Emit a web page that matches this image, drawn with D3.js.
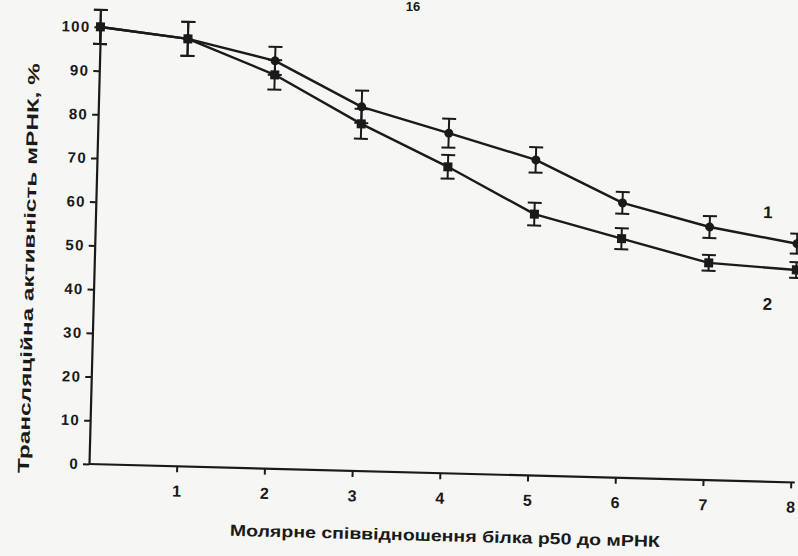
<!DOCTYPE html>
<html>
<head>
<meta charset="utf-8">
<script src="https://cdn.jsdelivr.net/npm/d3@7"></script>
<style>
  html, body { margin: 0; padding: 0; background: #f6f6f4; }
  svg { display: block; }
  text { font-family: "Liberation Sans", Arial, sans-serif; fill: #1a1a1a; }
</style>
</head>
<body>
<svg id="chart" width="798" height="556"></svg>
<script>
// ---- data ----
const ratios = [0, 1, 2, 3, 4, 5, 6, 7, 8];
const series1 = [100, 97.8, 93.3, 83.3, 77.8, 72.2, 62.9, 57.9, 54.6];
const series1Err = [3.9, 3.9, 3.2, 3.7, 3.3, 2.9, 2.5, 2.5, 2.3];
const series2 = [100, 97.8, 90.1, 79.4, 70.1, 59.8, 54.7, 49.7, 48.6];
const series2Err = [3.9, 3.9, 3.4, 3.4, 2.7, 2.6, 2.4, 1.8, 1.8];
const yTicks = [0, 10, 20, 30, 40, 50, 60, 70, 80, 90, 100];
const xTicks = [1, 2, 3, 4, 5, 6, 7, 8];
const seriesLabels = ["1", "2"];
const xTitle = "Молярне співвідношення білка р50 до мРНК";
const yTitle = "Трансляційна активність мРНК, %";
const pageNumber = "16";

const svg = d3.select("#chart");
const ink = "#1a1a1a";

// page number at top
svg.append("text").attr("x", 413).attr("y", 11).attr("text-anchor", "middle")
  .style("font-size", "13px").style("font-weight", "bold").text(pageNumber);

// scanned page is slightly rotated
const g = svg.append("g").attr("transform", "translate(89,464) rotate(1.5)");

const x = d3.scaleLinear().domain([0, 8]).range([0, 702]);
const y = d3.scaleLinear().domain([0, 100]).range([0, -437.2]);

// axes
const yAxis = d3.axisLeft(y).tickValues(yTicks).tickSize(6).tickSizeOuter(0).tickPadding(4);
const xAxis = d3.axisBottom(x).tickValues(xTicks).tickSize(6).tickSizeOuter(0).tickPadding(13);

const ya = g.append("g").call(yAxis);
const xa = g.append("g").call(xAxis);
[ya, xa].forEach(a => {
  a.select(".domain").attr("stroke", ink).attr("stroke-width", 2.2);
  a.selectAll(".tick line").attr("stroke", ink).attr("stroke-width", 2);
  a.selectAll(".tick text").style("font-size", "15px").style("font-weight", "bold")
    .style("letter-spacing", "1.3px").attr("fill", ink)
    .style("font-family", "'Liberation Sans', Arial, sans-serif");
});
xa.selectAll(".tick text").style("font-size", "16px").style("letter-spacing", "0px");
// extend x axis slightly
xa.select(".domain").attr("d", `M0,0H${x(8) + 4}`);

// lines
const line = d3.line().x((d, i) => x(ratios[i])).y(d => y(d));
[series1, series2].forEach(s => {
  g.append("path").datum(s).attr("d", line).attr("fill", "none")
    .attr("stroke", ink).attr("stroke-width", 2.4).attr("stroke-linejoin", "round");
});

// error bars
function errBars(vals, errs) {
  const eg = g.append("g").attr("stroke", ink).attr("stroke-width", 2);
  vals.forEach((v, i) => {
    const cx = x(ratios[i]);
    const y1 = y(v + errs[i]), y0 = y(v - errs[i]);
    eg.append("line").attr("x1", cx).attr("x2", cx).attr("y1", y1).attr("y2", y0);
    eg.append("line").attr("x1", cx - 7).attr("x2", cx + 7).attr("y1", y1).attr("y2", y1);
    eg.append("line").attr("x1", cx - 7).attr("x2", cx + 7).attr("y1", y0).attr("y2", y0);
  });
}
errBars(series1, series1Err);
errBars(series2, series2Err);

// markers
g.append("g").selectAll("circle").data(series1).join("circle")
  .attr("cx", (d, i) => x(ratios[i])).attr("cy", d => y(d)).attr("r", 4.5).attr("fill", ink);
g.append("g").selectAll("rect").data(series2).join("rect")
  .attr("x", (d, i) => x(ratios[i]) - 4.5).attr("y", d => y(d) - 4.5)
  .attr("width", 9).attr("height", 9).attr("fill", ink);

// series labels
g.append("text").attr("x", x(7.66)).attr("y", y(series1[7] + 2.4)).attr("text-anchor", "middle")
  .style("font-size", "17px").style("font-weight", "bold").text(seriesLabels[0]);
g.append("text").attr("x", x(7.68)).attr("y", y(series2[7] - 10.4)).attr("text-anchor", "middle")
  .style("font-size", "17px").style("font-weight", "bold").text(seriesLabels[1]);

// axis titles
g.append("text").attr("x", 357.7).attr("y", 68).attr("text-anchor", "middle")
  .style("font-size", "16px").style("font-weight", "bold")
  .attr("textLength", 430).attr("lengthAdjust", "spacingAndGlyphs").text(xTitle);
g.append("text").attr("transform", "translate(-60,-194.3) rotate(-90)").attr("text-anchor", "middle")
  .style("font-size", "16px").style("font-weight", "bold")
  .attr("textLength", 410).attr("lengthAdjust", "spacingAndGlyphs").text(yTitle);
</script>
</body>
</html>
